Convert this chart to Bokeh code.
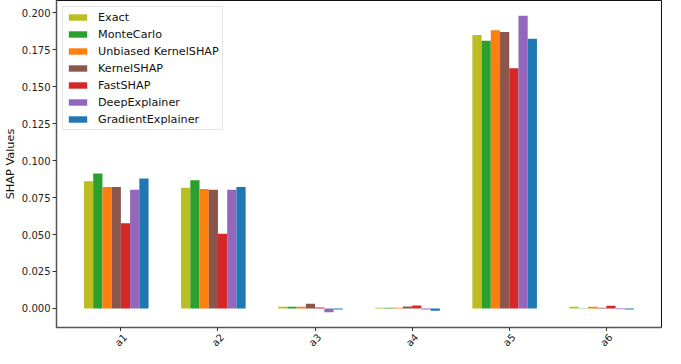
from bokeh.plotting import figure
from bokeh.models import Range1d, FixedTicker, ColumnDataSource, Legend
from bokeh.layouts import column
from bokeh.transform import dodge
from bokeh.embed import file_html
from bokeh.resources import INLINE
import math

categories = ["a1", "a2", "a3", "a4", "a5", "a6"]
methods = ["Exact", "MonteCarlo", "Unbiased KernelSHAP", "KernelSHAP",
           "FastSHAP", "DeepExplainer", "GradientExplainer"]
colors = ["#bcbd22", "#2ca02c", "#ff7f0e", "#8c564b", "#d62728", "#9467bd", "#1f77b4"]

exact = [0.0861, 0.0816, 0.0012, 0.0004, 0.1851, 0.0012]
montecarlo = [0.0913, 0.0867, 0.0012, 0.0004, 0.1812, 0.0002]
unbiased_kernelshap = [0.0822, 0.0809, 0.0012, 0.0004, 0.1883, 0.0012]
kernelshap = [0.0822, 0.0803, 0.0032, 0.0013, 0.1871, 0.0004]
fastshap = [0.0576, 0.0505, 0.0006, 0.0020, 0.1625, 0.0018]
deepexplainer = [0.0803, 0.0803, -0.0026, -0.0008, 0.1981, -0.0005]
gradientexplainer = [0.0880, 0.0822, -0.0008, -0.0015, 0.1825, -0.0007]

series = [exact, montecarlo, unbiased_kernelshap, kernelshap,
          fastshap, deepexplainer, gradientexplainer]
yticks = [0.0, 0.025, 0.05, 0.075, 0.1, 0.125, 0.15, 0.175, 0.2]

bar_w = 0.095
xs = list(range(len(categories)))
data = {"x": xs}
for i, s in enumerate(series):
    data["s%d" % i] = s
source = ColumnDataSource(data)

LEFT, RIGHT = 50, 4
x_range = Range1d(-0.663, 5.568)
p = figure(width=665, height=331, output_backend="svg", toolbar_location=None,
           x_range=x_range, y_range=Range1d(-0.0129, 0.2084),
           min_border_left=LEFT, min_border_right=RIGHT, min_border_top=0,
           min_border_bottom=4)

renderers = []
for i, (m, c) in enumerate(zip(methods, colors)):
    r = p.vbar(x=dodge("x", (i - 3.5) * bar_w, range=x_range), top="s%d" % i,
               bottom=0, width=bar_w, source=source, fill_color=c, line_color=None)
    renderers.append((m, [r]))

legend = Legend(items=renderers, location="top_left")
legend.label_text_font = "DejaVu Sans"
legend.label_text_font_size = "11.2px"
legend.label_text_color = "#111111"
legend.glyph_width = 23
legend.glyph_height = 8
legend.label_height = 14
legend.label_standoff = 9
legend.spacing = 3
legend.padding = 3
legend.margin = 6
legend.border_line_color = "#cccccc"
legend.border_line_width = 1
legend.background_fill_alpha = 0.8
p.add_layout(legend)

p.xgrid.visible = False
p.ygrid.visible = False

p.xaxis.ticker = FixedTicker(ticks=xs)
p.xaxis.major_label_overrides = {i: "" for i in xs}
p.xaxis.major_label_standoff = 0
p.xaxis.minor_tick_line_color = None
p.yaxis.minor_tick_line_color = None
p.yaxis.ticker = FixedTicker(ticks=yticks)
p.yaxis.major_label_overrides = {t: "%.3f" % t for t in yticks}

for ax in (p.xaxis[0], p.yaxis[0]):
    ax.major_label_text_font = "DejaVu Sans"
    ax.major_label_text_font_size = "10px"
    ax.major_label_text_color = "#222222"
    ax.major_tick_in = 0
    ax.major_tick_out = 4
    ax.axis_line_color = "#555555"
    ax.axis_line_width = 1.5
    ax.major_tick_line_color = "#333333"

p.yaxis.major_label_standoff = 2
p.yaxis.axis_label = "SHAP Values"
p.yaxis.axis_label_text_font = "DejaVu Sans"
p.yaxis.axis_label_text_font_size = "11.3px"
p.yaxis.axis_label_text_font_style = "normal"
p.yaxis.axis_label_text_color = "#111111"
p.yaxis.axis_label_standoff = 2

p.outline_line_color = "#111111"
p.outline_line_width = 1
p.outline_line_alpha = 1

# strip under the chart holding the rotated category labels
lab = figure(width=665, height=17, output_backend="svg", toolbar_location=None,
             x_range=x_range, y_range=Range1d(0, 1),
             x_axis_location=None, y_axis_location=None,
             min_border_left=LEFT, min_border_right=RIGHT, min_border_top=0,
             min_border_bottom=0)
lab.outline_line_color = None
lab.xgrid.visible = False
lab.ygrid.visible = False
lab_src = ColumnDataSource({"x": xs, "y": [0.5] * len(xs), "t": categories})
lab.text(x="x", y="y", text="t", source=lab_src, angle=math.pi / 4,
         text_align="center", text_baseline="middle",
         text_font_size="10px", text_color="#222222",
         text_font={"value": "DejaVu Sans"})

layout = column(p, lab, spacing=0)
open("out.html", "w").write(file_html(layout, INLINE))
